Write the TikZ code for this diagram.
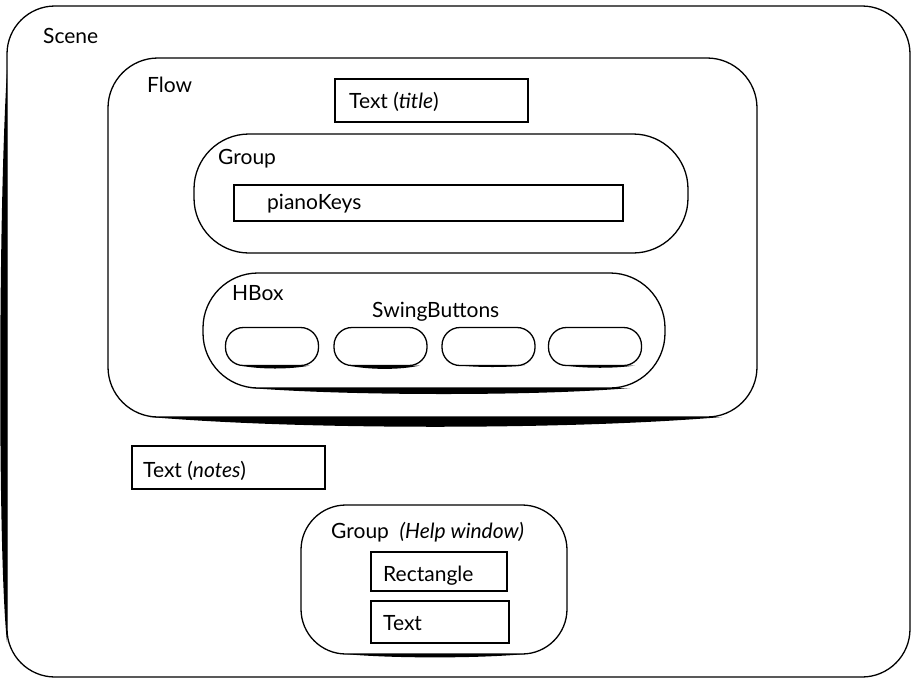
\documentclass[tikz,border=0pt]{standalone}
\usepackage{fontspec}
\setmainfont{Lato}
\begin{document}
\begin{tikzpicture}[x=1pt,y=-1pt,
  box/.style={draw=black,line width=1.3pt,inner sep=0pt,outer sep=0pt,fill=none},
  rbox/.style={box,rounded corners=#1},
  btn/.style={box,rounded corners=18pt,minimum width=93pt,minimum height=38pt},
  lbl/.style={anchor=base west,inner sep=0pt,font=\fontsize{21}{25}\selectfont},
  shadow/.style={fill=black,draw=none}]
\useasboundingbox (0,0) rectangle (916,681);
% Scene
\node[rbox=48pt,minimum width=903pt,minimum height=671pt] (scene) at (458.5,341.5) {};
\fill[shadow] (7,70) .. controls (-2,220) and (-2,560) .. (7,642) -- cycle;
\node[lbl] (scenel) at (43,43) {Scene};
% Flow
\node[rbox=50pt,minimum width=649pt,minimum height=359pt] (flow) at (432.5,237.5) {};
\fill[shadow] (150,417) .. controls (300,430) and (570,430) .. (722,417) -- cycle;
\node[lbl] (flowl) at (147,92) {Flow};
% title
\node[box,minimum width=193pt,minimum height=43pt] (title) at (431.5,100.5) {};
\node[lbl] (titlel) at (349,108) {Text (\textit{title})};
% Group
\node[rbox=55pt,minimum width=494pt,minimum height=119pt] (group) at (441,193.5) {};
\node[lbl] (groupl) at (218,164) {Group};
\node[box,minimum width=389pt,minimum height=36pt] (keys) at (428.5,203) {};
\node[lbl] (keysl) at (267,209) {pianoKeys};
% HBox
\node[rbox=55pt,minimum width=462pt,minimum height=115pt] (hbox) at (434,330.5) {};
\fill[shadow] (250,388) .. controls (350,396) and (540,396) .. (630,388) -- cycle;
\node[lbl] (hboxl) at (232,300) {HBox};
\node[lbl] (swingl) at (372,317) {SwingButtons};
\node[btn] (b1) at (272,346.5) {};
\node[btn] (b2) at (380.5,346.5) {};
\node[btn] (b3) at (488.5,346.5) {};
\node[btn] (b4) at (595,346.5) {};
\fill[shadow] (240,365.5) .. controls (260,369.5) and (290,369.5) .. (310,365.5) -- cycle;
\fill[shadow] (348,365.5) .. controls (370,370) and (400,370) .. (420,365.5) -- cycle;
\fill[shadow] (460,365.5) .. controls (480,367.5) and (505,367.5) .. (525,365.5) -- cycle;
\fill[shadow] (565,365.5) .. controls (585,368.5) and (615,368.5) .. (635,365.5) -- cycle;
% notes
\node[box,minimum width=193pt,minimum height=43pt] (notes) at (228.5,467.5) {};
\node[lbl] (notesl) at (143,477) {Text (\textit{notes})};
% Help group
\node[rbox=45pt,minimum width=266pt,minimum height=149pt] (help) at (434,579.5) {};
\fill[shadow] (345,654) .. controls (390,658.5) and (480,658.5) .. (525,654) -- cycle;
\node[lbl] (helpl) at (331,538) {Group\ \ \textit{(Help window)}};
\node[box,minimum width=136pt,minimum height=39pt] (rect) at (439,571.5) {};
\node[lbl] (rectl) at (383,581) {Rectangle};
\node[box,minimum width=138pt,minimum height=42pt] (textb) at (440,622) {};
\node[lbl] (textl) at (383,630) {Text};
\end{tikzpicture}
\end{document}
